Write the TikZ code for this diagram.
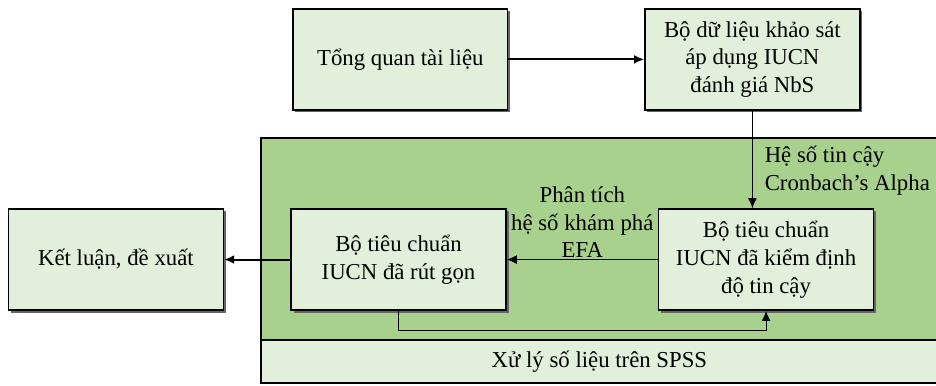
\documentclass[tikz,border=0pt]{standalone}
\usepackage{fontspec}
\setmainfont{Liberation Serif}
\usetikzlibrary{arrows.meta,shadows}
\definecolor{palegreen}{HTML}{E2EFDA}
\definecolor{midgreen}{HTML}{A9D18E}

\begin{document}
\begin{tikzpicture}[
   font=\fontsize{18}{21.9}\selectfont,
   box/.style={draw,line width=1.1pt,fill=palegreen,minimum width=5.97cm,minimum height=2.81cm,align=center,
      drop shadow={shadow xshift=0.07cm,shadow yshift=-0.07cm,fill=black!60,opacity=1}},
   arr/.style={-{Latex[length=8pt,width=7pt]}}
   ]
   \useasboundingbox (0,0) rectangle (26,10.72);
   % vung xu ly SPSS
   \fill [midgreen] (7.25,0.08) rectangle (26.5,6.89);
   \fill [palegreen] (7.25,0.08) rectangle (26.5,1.28);
   \draw [line width=1.5pt] (26.5,6.89) -- (7.25,6.89) -- (7.25,0.08) -- (26.5,0.08);
   \draw [line width=1.1pt] (7.25,1.28) -- (26.5,1.28);
   \node (spss) at (16.65,0.68) {Xử lý số liệu trên SPSS};
   % cac buoc
   \node [box] (tongquan) at (11.12,9.07) {Tổng quan tài liệu};
   \node [box] (bodulieu) at (20.90,9.07) {Bộ dữ liệu khảo sát\\áp dụng IUCN\\đánh giá NbS};
   \node [box] (kiemdinh) at (21.28,3.51) {Bộ tiêu chuẩn\\IUCN đã kiểm định\\độ tin cậy};
   \node [box] (rutgon) at (11.07,3.51) {Bộ tiêu chuẩn\\IUCN đã rút gọn};
   \node [box] (ketluan) at (3.22,3.51) {Kết luận, đề xuất};
   % mui ten
   \draw [line width=1.5pt,arr] (tongquan) -- (bodulieu);
   \draw [line width=0.8pt,arr] (bodulieu.south) -- (bodulieu.south |- kiemdinh.north);
   \node [anchor=west,align=left] (alpha) at (21.12,5.97) {Hệ số tin cậy\\Cronbach’s Alpha};
   \draw [line width=0.8pt,arr] (kiemdinh) -- (rutgon)
      node [midway,above,align=center,inner sep=1pt] (efa) {Phân tích\\hệ số khám phá\\EFA};
   \draw [line width=0.8pt,arr] (rutgon.south) -- ++(0,-0.56) -| (kiemdinh.south);
   \draw [line width=1.5pt,arr] (rutgon) -- (ketluan);
\end{tikzpicture}
\end{document}
